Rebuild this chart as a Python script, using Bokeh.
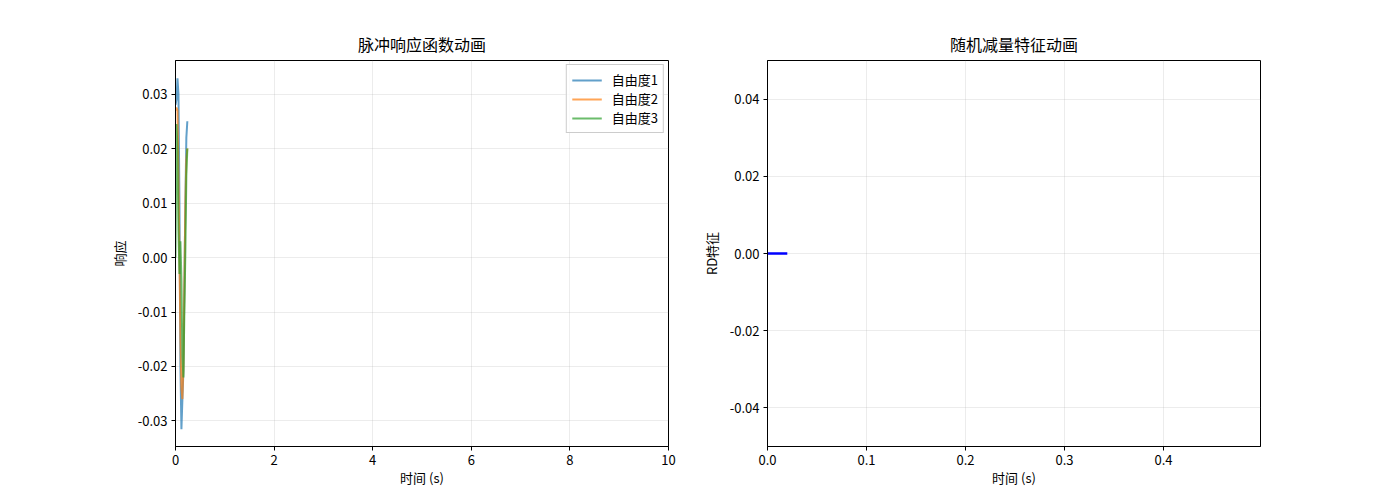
from bokeh.plotting import figure
from bokeh.layouts import row
from bokeh.models import Range1d, FixedTicker, NumeralTickFormatter, Legend, LegendItem
from bokeh.embed import file_html
from bokeh.resources import INLINE

# ---- data: impulse response (left) ----
time = [0.0, 0.02, 0.04, 0.06, 0.08, 0.10, 0.12, 0.14, 0.16, 0.18, 0.20, 0.22, 0.24]
dof1 = [0.0280, 0.0290, 0.0329, 0.0300, 0.0100, -0.0200, -0.0315, -0.0260, -0.0210, -0.0050, 0.0100, 0.0220, 0.0250]
dof2 = [0.0270, 0.0275, 0.0270, 0.0150, 0.0000, -0.0150, -0.0240, -0.0260, -0.0200, -0.0050, 0.0100, 0.0180, 0.0200]
dof3 = [0.0000, 0.0245, 0.0200, 0.0050, -0.0030, 0.0030, -0.0040, -0.0180, -0.0220, -0.0100, 0.0010, 0.0150, 0.0200]
dof_labels = ["自由度1", "自由度2", "自由度3"]
dof_colors = ["#1f77b4", "#ff7f0e", "#2ca02c"]

# ---- data: random decrement signature (right) ----
rd_time = [0.0, 0.01, 0.02]
rd_value = [0.0, 0.0, 0.0]

# ---- ticks ----
left_xticks = [0, 2, 4, 6, 8, 10]
left_yticks = [-0.03, -0.02, -0.01, 0.0, 0.01, 0.02, 0.03]
right_xticks = [0.0, 0.1, 0.2, 0.3, 0.4]
right_yticks = [-0.04, -0.02, 0.0, 0.02, 0.04]

FONT = "Noto Sans CJK SC"


def style(p, xticks, yticks, xfmt, yfmt):
    p.outline_line_color = "black"
    p.outline_line_alpha = 1
    p.outline_line_width = 1
    for ax in (p.xaxis[0], p.yaxis[0]):
        ax.axis_line_color = "black"
        ax.major_tick_line_color = "black"
        ax.major_tick_out = 4
        ax.major_tick_in = 0
        ax.minor_tick_line_color = None
        ax.major_label_text_font = FONT
        ax.major_label_text_font_size = "13px"
        ax.major_label_text_color = "black"
        ax.axis_label_text_font = FONT
        ax.axis_label_text_font_size = "13px"
        ax.axis_label_text_font_style = "normal"
        ax.axis_label_text_color = "black"
        ax.major_label_standoff = 4
    p.xaxis[0].axis_label_standoff = 0
    p.yaxis[0].axis_label_standoff = 6
    p.xaxis[0].ticker = FixedTicker(ticks=xticks)
    p.yaxis[0].ticker = FixedTicker(ticks=yticks)
    p.xaxis[0].formatter = NumeralTickFormatter(format=xfmt)
    p.yaxis[0].formatter = NumeralTickFormatter(format=yfmt)
    for g in (p.xgrid[0], p.ygrid[0]):
        g.grid_line_color = "#b0b0b0"
        g.grid_line_alpha = 0.3
        g.grid_line_width = 0.8
    p.title.text_font = FONT
    p.title.text_font_size = "16px"
    p.title.text_font_style = "normal"
    p.title.align = "center"
    p.title.text_color = "black"
    p.background_fill_color = "white"
    p.border_fill_color = "white"


p1 = figure(
    title="脉冲响应函数动画",
    x_range=Range1d(0, 10), y_range=Range1d(-0.03468, 0.03615),
    frame_width=493, frame_height=386,
    min_border_left=175, min_border_right=19, min_border_top=60, min_border_bottom=44,
    output_backend="svg", toolbar_location=None,
    x_axis_label="时间 (s)", y_axis_label="响应",
)
style(p1, left_xticks, left_yticks, "0", "0.00")

renderers = []
for ys, c in zip([dof1, dof2, dof3], dof_colors):
    r = p1.line(time, ys, line_color=c, line_width=2, line_alpha=0.7)
    renderers.append(r)

legend = Legend(
    items=[LegendItem(label=l, renderers=[r]) for l, r in zip(dof_labels, renderers)],
    location="top_right",
    label_text_font=FONT, label_text_font_size="13px", label_text_color="black",
    glyph_width=30, glyph_height=16, label_standoff=10,
    spacing=0, padding=5, margin=4,
    border_line_color="#cccccc", border_line_alpha=1,
    background_fill_alpha=0.8,
)
p1.add_layout(legend)

p2 = figure(
    title="随机减量特征动画",
    x_range=Range1d(0, 0.498), y_range=Range1d(-0.05, 0.05),
    frame_width=493, frame_height=386,
    min_border_left=80, min_border_right=40, min_border_top=60, min_border_bottom=44,
    output_backend="svg", toolbar_location=None,
    x_axis_label="时间 (s)", y_axis_label="RD特征",
)
style(p2, right_xticks, right_yticks, "0.0", "0.00")
p2.line(rd_time, rd_value, line_color="blue", line_width=2.5)

layout = row(p1, p2)
open("out.html", "w").write(file_html(layout, INLINE))
